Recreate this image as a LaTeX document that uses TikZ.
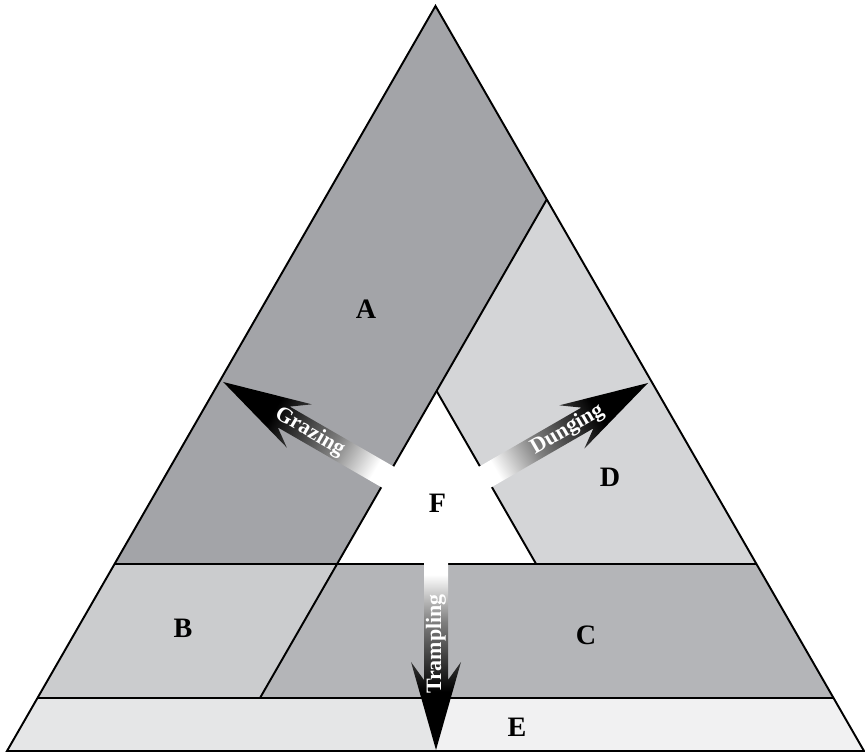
\documentclass[tikz,border=0pt]{standalone}
\usepackage{fontspec}
\setmainfont{Liberation Serif}
\usetikzlibrary{calc}
\definecolor{zoneA}{RGB}{163,164,168}
\definecolor{zoneB}{RGB}{203,204,206}
\definecolor{zoneC}{RGB}{180,181,184}
\definecolor{zoneD}{RGB}{212,213,215}
\definecolor{zoneEleft}{RGB}{229,230,231}
\definecolor{zoneEright}{RGB}{241,241,242}
\pgfdeclarehorizontalshading{arrowfade}{100bp}{color(0bp)=(white); color(30bp)=(white); color(42bp)=(gray); color(60bp)=(black); color(100bp)=(black)}

\begin{document}
\begin{tikzpicture}[
    zoneline/.style={draw=black, line width=1.1pt},
    zonelabel/.style={font=\fontsize{16}{18}\selectfont\bfseries},
    flowlabel/.style={text=white, inner sep=0pt, font=\fontsize{12.5}{14}\selectfont\bfseries}]
        \useasboundingbox (0,0) rectangle (17.3,15.08);

        % Zone fills
        \fill[zoneEleft] (0.14,0.06) -- (8.71,0.06) -- (8.71,1.12) -- (0.75,1.12) -- cycle;
        \fill[zoneEright] (8.71,0.06) -- (17.28,0.06) -- (16.67,1.12) -- (8.71,1.12) -- cycle;
        \fill[zoneB] (0.75,1.12) -- (5.20,1.12) -- (6.741,3.80) -- (2.291,3.80) -- cycle;
        \fill[zoneC] (5.20,1.12) -- (16.67,1.12) -- (15.129,3.80) -- (6.741,3.80) -- cycle;
        \fill[zoneA] (2.291,3.80) -- (6.741,3.80) -- (10.935,11.091) -- (8.71,14.96) -- cycle;
        \fill[zoneD] (8.732,7.26) -- (10.722,3.80) -- (15.129,3.80) -- (10.935,11.091) -- cycle;

        % Zone borders
        \draw[zoneline] (0.14,0.06) -- (17.28,0.06) -- (8.71,14.96) -- cycle;
        \draw[zoneline] (0.75,1.12) -- (16.67,1.12);
        \draw[zoneline] (2.291,3.80) -- (15.129,3.80);
        \draw[zoneline] (5.20,1.12) -- (10.935,11.091);
        \draw[zoneline] (8.732,7.26) -- (10.722,3.80);

        % Zone letters
        \node[zonelabel] (labA) at (7.32,8.90) {A};
        \node[zonelabel] (labB) at (3.66,2.52) {B};
        \node[zonelabel] (labC) at (11.72,2.38) {C};
        \node[zonelabel] (labD) at (12.20,5.54) {D};
        \node[zonelabel] (labE) at (10.34,0.53) {E};
        \node[zonelabel] (labF) at (8.75,5.01) {F};

        % Flow arrows out of F
        \foreach \name/\pos/\ang/\txt/\flip/\at in {graze/{7.84,5.49}/150/Grazing/180/1.90,
                                                   dung/{9.583,5.47}/30/Dunging/0/2.04,
                                                   trample/{8.72,3.98}/-90/Trampling/180/1.78} {
            \coordinate (\name) at (\pos);
            \begin{scope}[transform canvas={shift={(\name)}, rotate=\ang}]
                \shade[shading=arrowfade] (0,0.24) -- (2.5,0.24) -- (2.14,0.5) -- (3.9,0)
                    -- (2.14,-0.5) -- (2.5,-0.24) -- (0,-0.24) -- cycle;
                \node[flowlabel, rotate=\flip] (\name-text) at (\at,0) {\txt};
            \end{scope}
        }

    \end{tikzpicture}
\end{document}
